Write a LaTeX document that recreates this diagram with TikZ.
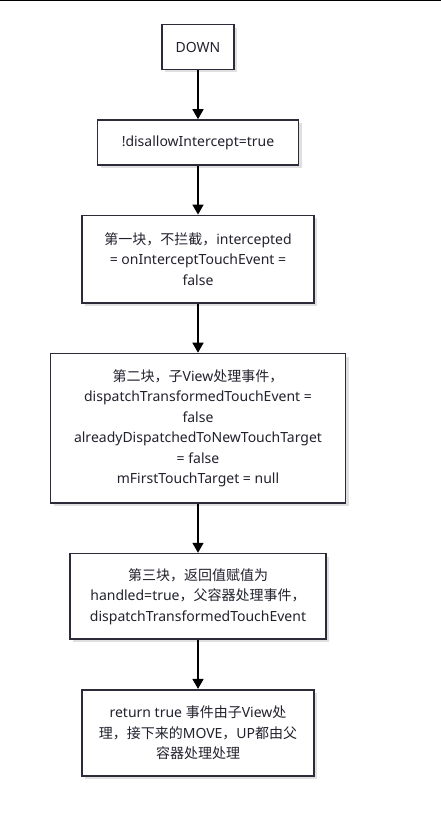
\documentclass[tikz,border=0pt]{standalone}
\usepackage{fontspec}
\setmainfont{Noto Sans}
\newfontfamily\cjk{Noto Sans CJK SC}
\usepackage{xcolor}
\usetikzlibrary{arrows.meta, positioning, shadows}
\definecolor{boxline}{HTML}{2B2B3A}
\definecolor{boxtext}{HTML}{22222E}

\begin{document}
\begin{tikzpicture}[
    x=1pt, y=1pt,
    >={Triangle[width=11pt,length=10pt]},
    node distance=49pt,
    stepbox/.style={draw=boxline, line width=1.6pt, rectangle, align=center, fill=white,
        text=boxtext, font=\fontsize{14pt}{20.5pt}\selectfont, inner sep=4pt,
        drop shadow={shadow xshift=3pt, shadow yshift=-3pt, fill=black!12, opacity=1}},
    arrow/.style={->, line width=1.6pt}
]
\useasboundingbox (0,0) rectangle (441,-821);
\draw[line width=1.5pt] (0,-0.5) -- (441,-0.5);

% Start
\node[stepbox, minimum width=72pt, minimum height=44.8pt] (down) at (198,-47) {DOWN};

% Steps
\node[stepbox, below=of down, minimum width=201pt, minimum height=44.8pt] (disallow) {!disallowIntercept=true};
\node[stepbox, below=of disallow, minimum width=232pt, minimum height=87.5pt] (block1) {{\cjk 第一块，不拦截，}intercepted\\= onInterceptTouchEvent =\\false};
\node[stepbox, below=of block1, minimum width=295pt, minimum height=149.5pt] (block2) {{\cjk 第二块，子}View{\cjk 处理事件，}\\dispatchTransformedTouchEvent =\\false\\alreadyDispatchedToNewTouchTarget\\= false\\mFirstTouchTarget = null};
\node[stepbox, below=of block2, minimum width=256pt, minimum height=85.5pt] (block3) {{\cjk 第三块，返回值赋值为}\\handled=true{\cjk ，父容器处理事件，}\\dispatchTransformedTouchEvent};
\node[stepbox, below=of block3, minimum width=232pt, minimum height=86.5pt] (result) {return true {\cjk 事件由子}View{\cjk 处}\\{\cjk 理，接下来的}MOVE{\cjk ，}UP{\cjk 都由父}\\{\cjk 容器处理处理}};

\draw[arrow] (down) -- (disallow);
\draw[arrow] (disallow) -- (block1);
\draw[arrow] (block1) -- (block2);
\draw[arrow] (block2) -- (block3);
\draw[arrow] (block3) -- (result);

\end{tikzpicture}
\end{document}
